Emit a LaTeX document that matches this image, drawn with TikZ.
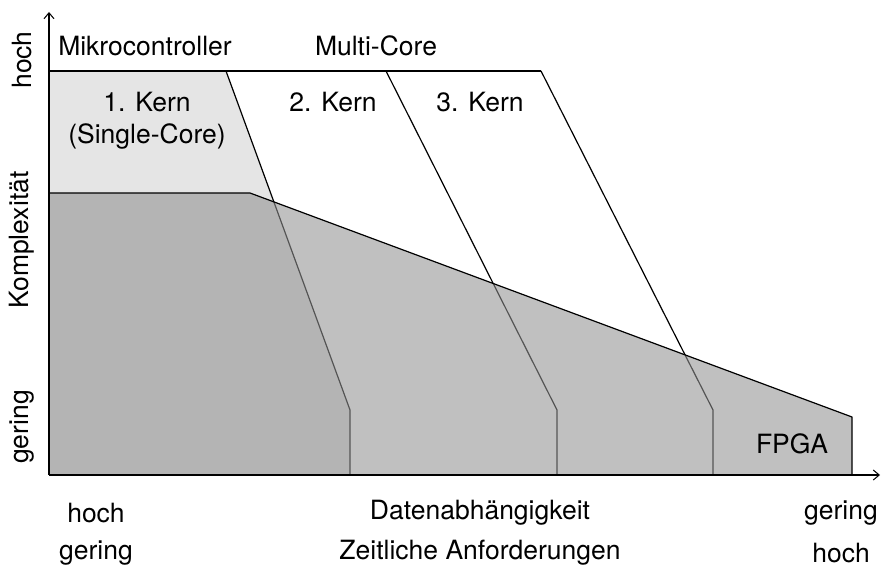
\documentclass[tikz,border=0pt]{standalone}
\usepackage{fontspec}
\setmainfont{TeX Gyre Heros}
\usetikzlibrary{arrows.meta}
\definecolor{corelight}{gray}{0.90}
\definecolor{fpgafill}{gray}{0.573}
\begin{document}
\begin{tikzpicture}[x=1pt,y=-1pt,
  lbl/.style={font=\fontsize{26.5}{31}\selectfont, inner sep=0pt},
  edge/.style={line width=1.2pt, line join=round},
  axis/.style={line width=1.5pt, -{Straight Barb[length=6pt,width=10pt,line width=1pt]}}]
\useasboundingbox (0,0) rectangle (882,572);

% corner points of the regions
\coordinate (O) at (49,475);
\coordinate (TL) at (49,71);
\coordinate (K1t) at (226,71);
\coordinate (K1k) at (350,410);
\coordinate (K1b) at (350,475);
\coordinate (K2t) at (386,71);
\coordinate (K2k) at (557,410);
\coordinate (K2b) at (557,475);
\coordinate (K3t) at (541,71);
\coordinate (K3k) at (713,410);
\coordinate (K3b) at (713,475);
\coordinate (F1) at (49,193);
\coordinate (F2) at (250,193);
\coordinate (F3) at (852,417);
\coordinate (F4) at (852,475);
\coordinate (Ytip) at (49,12);
\coordinate (Xtip) at (880,475);

% single-core region
\fill[corelight] (TL) -- (K1t) -- (K1k) -- (K1b) -- (O) -- cycle;

% core boundaries
\draw[edge] (TL) -- (K3t);
\draw[edge] (K1t) -- (K1k) -- (K1b);
\draw[edge] (K2t) -- (K2k) -- (K2b);
\draw[edge] (K3t) -- (K3k) -- (K3b);

% FPGA region, translucent over the cores
\fill[fpgafill, fill opacity=0.58] (F1) -- (F2) -- (F3) -- (F4) -- (O) -- cycle;
\draw[edge] (F1) -- (F2) -- (F3) -- (F4);

% axes
\draw[axis] (O) -- (Ytip);
\draw[axis] (O) -- (Xtip);

% labels
\node[lbl, rotate=90] (yhoch) at (22,60) {hoch};
\node[lbl, rotate=90] (ykompl) at (22,240) {Komplexität};
\node[lbl, rotate=90] (ygering) at (22,427) {gering};
\node[lbl] (mc) at (145,46) {Mikrocontroller};
\node[lbl] (multi) at (376,46) {Multi-Core};
\node[lbl] (k1) at (147,102) {1. Kern};
\node[lbl] (k1b) at (147,136) {(Single-Core)};
\node[lbl] (k2) at (333,102) {2. Kern};
\node[lbl] (k3) at (480,102) {3. Kern};
\node[lbl] (fpga) at (792,444) {FPGA};
\node[lbl] (xh1) at (96,513) {hoch};
\node[lbl] (xdat) at (480,513) {Datenabhängigkeit};
\node[lbl] (xg1) at (841,513) {gering};
\node[lbl] (xg2) at (96,553) {gering};
\node[lbl] (xzeit) at (480,553) {Zeitliche Anforderungen};
\node[lbl] (xh2) at (841,553) {hoch};
\end{tikzpicture}
\end{document}
